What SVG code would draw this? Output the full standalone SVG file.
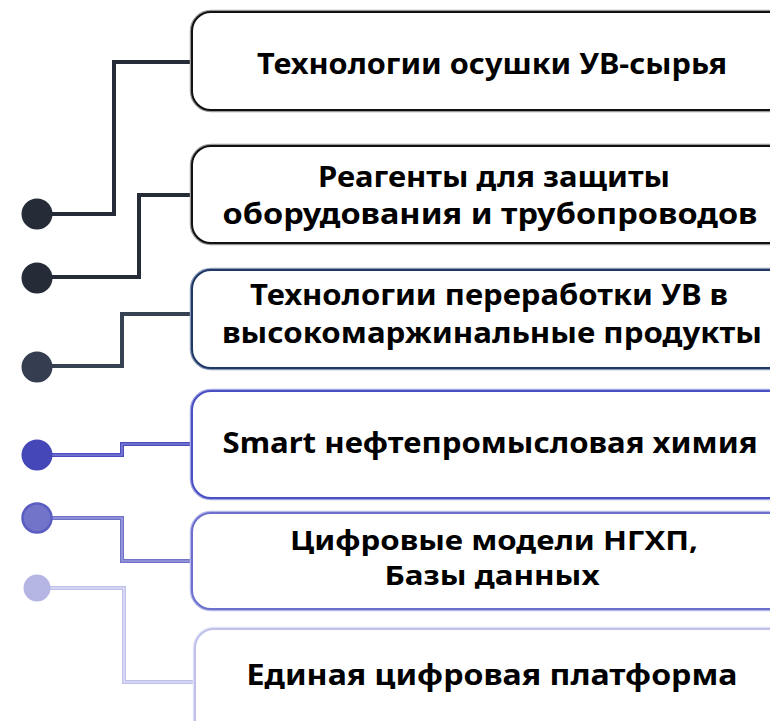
<svg xmlns="http://www.w3.org/2000/svg" width="770" height="721" viewBox="0 0 770 721">
<style>
.halo{fill:none;stroke-width:4.5}
.edge{fill:#fff;stroke-width:2}
.t{font-family:"Noto Sans","DejaVu Sans",sans-serif;font-weight:bold;font-size:29px;fill:#000;text-anchor:middle}
.s{font-size:27px}
.c{fill:none;stroke-width:4;stroke-linejoin:miter}
.ci{fill:none;stroke-width:1.2;stroke-linejoin:miter}
</style>
<rect width="770" height="721" fill="#fff"/>
<g id="connectors">
<path class="c" stroke="#252c38" d="M50,214 H114 V62 H194"/>
<path class="c" stroke="#252c38" d="M50,277 H139 V195 H194"/>
<path class="c" stroke="#364152" d="M50,366 H122 V314 H194"/>
<path class="c" stroke="#4a4cbf" d="M50,455 H122 V444 H194"/>
<path class="ci" stroke="#8f91dc" d="M50,455 H122 V444 H194"/>
<path class="c" stroke="#7073c9" d="M50,518 H122 V561 H194"/>
<path class="ci" stroke="#a9abe3" d="M50,518 H122 V561 H194"/>
<path class="c" stroke="#bfc1ea" d="M50,588 H124 V682 H196"/>
<path class="ci" stroke="#e6e7f8" d="M50,588 H124 V682 H196"/>
</g>
<g id="dots">
<circle cx="37" cy="214" r="15.5" fill="#252c38"/>
<circle cx="37" cy="278" r="15.5" fill="#252c38"/>
<circle cx="37" cy="367" r="15.5" fill="#343e50"/>
<circle cx="37" cy="455" r="15.5" fill="#4547b9"/>
<circle cx="37" cy="518" r="14.5" fill="#7274c9" stroke="#5a5dc1" stroke-width="2.5"/>
<circle cx="37" cy="588" r="13.5" fill="#b4b5e3"/>
</g>
<g id="node1">
<rect class="halo" x="192" y="12" width="620" height="98" rx="19" stroke="#9a9a9a"/>
<rect class="edge" x="192" y="12" width="620" height="98" rx="19" stroke="#111"/>
<text class="t" x="492" y="74" textLength="470" lengthAdjust="spacingAndGlyphs">Технологии осушки УВ-сырья</text>
</g>
<g id="node2">
<rect class="halo" x="192" y="146" width="620" height="97" rx="19" stroke="#9a9a9a"/>
<rect class="edge" x="192" y="146" width="620" height="97" rx="19" stroke="#111"/>
<text class="t" x="494" y="187" textLength="352" lengthAdjust="spacingAndGlyphs">Реагенты для защиты</text>
<text class="t" x="490" y="224" textLength="535" lengthAdjust="spacingAndGlyphs">оборудования и трубопроводов</text>
</g>
<g id="node3">
<rect class="halo" x="192" y="270" width="620" height="98" rx="19" stroke="#8a9ab8"/>
<rect class="edge" x="192" y="270" width="620" height="98" rx="19" stroke="#1f3864"/>
<text class="t" x="489" y="305" textLength="478" lengthAdjust="spacingAndGlyphs">Технологии переработки УВ в</text>
<text class="t" x="492" y="343" textLength="540" lengthAdjust="spacingAndGlyphs">высокомаржинальные продукты</text>
</g>
<g id="node4">
<rect class="halo" x="192" y="391" width="620" height="107" rx="19" stroke="#a4a6e4"/>
<rect class="edge" x="192" y="391" width="620" height="107" rx="19" stroke="#4b4fc4"/>
<text class="t" x="490" y="453" textLength="535" lengthAdjust="spacingAndGlyphs">Smart нефтепромысловая химия</text>
</g>
<g id="node5">
<rect class="halo" x="192" y="513" width="620" height="96" rx="19" stroke="#b6b8ea"/>
<rect class="edge" x="192" y="513" width="620" height="96" rx="19" stroke="#6c70cc"/>
<text class="t s" x="494" y="550" textLength="408" lengthAdjust="spacingAndGlyphs">Цифровые модели НГХП,</text>
<text class="t s" x="492" y="585" textLength="215" lengthAdjust="spacingAndGlyphs">Базы данных</text>
</g>
<g id="node6">
<rect class="halo" x="195" y="629" width="620" height="110" rx="19" stroke="#e2e3f6"/>
<rect class="edge" x="195" y="629" width="620" height="110" rx="19" stroke="#bfc1ea"/>
<text class="t" x="492" y="685" textLength="491" lengthAdjust="spacingAndGlyphs">Единая цифровая платформа</text>
</g>
</svg>
